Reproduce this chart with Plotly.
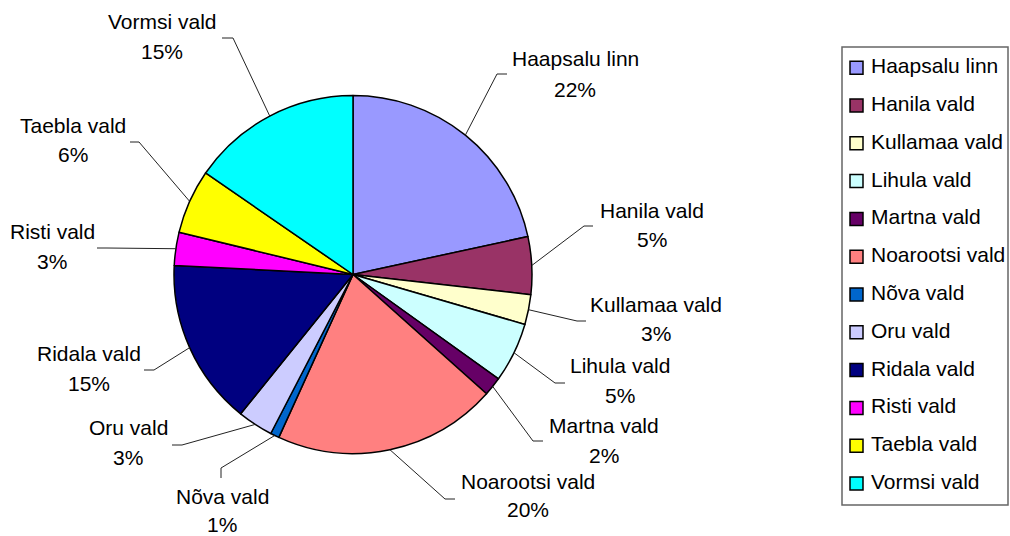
import math
import plotly.graph_objects as go

# Share of the county by municipality
names = ["Haapsalu linn", "Hanila vald", "Kullamaa vald", "Lihula vald", "Martna vald",
         "Noarootsi vald", "Nõva vald", "Oru vald", "Ridala vald", "Risti vald",
         "Taebla vald", "Vormsi vald"]
values = [21.6, 5.2, 2.7, 5.4, 1.7, 20.2, 0.8, 3.2, 15.0, 3.0, 5.8, 15.4]
colors = ["#9999FF", "#993366", "#FFFFCC", "#CCFFFF", "#660066", "#FF8080",
          "#0066CC", "#CCCCFF", "#000080", "#FF00FF", "#FFFF00", "#00FFFF"]

W, H = 1010, 536
FONT = "Liberation Sans, Arial, sans-serif"
FS = 21

# pie geometry in pixels
CX, CY, R = 353, 274.5, 179

# label placement (pixels): label centre x, first line y, second line gap,
# elbow point, line end near text
label_layout = {
    "Haapsalu linn":  (575, 58, 31, (497, 74), (507, 74)),
    "Hanila vald":    (652, 210, 30, (584, 226), (593, 226)),
    "Kullamaa vald":  (656, 304, 29, (577, 321), (586, 321)),
    "Lihula vald":    (620, 365, 30, (555, 383), (565, 383)),
    "Martna vald":    (604, 425, 30, (533, 441), (543, 441)),
    "Noarootsi vald": (528, 481, 28, (445, 499), (455, 499)),
    "Nõva vald":      (222, 496, 28, (221, 468), (221, 478)),
    "Oru vald":       (128, 427, 30, (182, 445), (172, 445)),
    "Ridala vald":    (89, 353, 30, (154, 370), (144, 370)),
    "Risti vald":     (52, 231, 30, (107, 248), (97, 248)),
    "Taebla vald":    (73, 125, 29, (139, 142), (130, 142)),
    "Vormsi vald":    (162, 21, 31, (233, 38), (222, 38)),
}


def px(x):
    return x / W


def py(y):
    return 1 - y / H


fig = go.Figure()
fig.add_trace(go.Pie(
    labels=names, values=values, sort=False, direction="clockwise", rotation=0,
    marker=dict(colors=colors, line=dict(color="black", width=1.5)),
    textinfo="none", showlegend=False,
    domain=dict(x=[px(CX - R), px(CX + R)], y=[py(CY + R), py(CY - R)]),
))

shapes = []
annotations = []
total = sum(values)
cum = 0.0
for name, v in zip(names, values):
    mid = (cum + v / 2) / total * 2 * math.pi
    cum += v
    ex, ey = CX + R * math.sin(mid), CY - R * math.cos(mid)
    lx, ly, gap, (bx, by), (tx, ty) = label_layout[name]
    for (x0, y0), (x1, y1) in (((ex, ey), (bx, by)), ((bx, by), (tx, ty))):
        shapes.append(dict(type="line", xref="paper", yref="paper",
                           x0=px(x0), y0=py(y0), x1=px(x1), y1=py(y1),
                           line=dict(color="#222", width=1)))
    pct = int(v / total * 100 + 0.5)
    annotations.append(dict(text=name, x=px(lx), y=py(ly), xref="paper", yref="paper",
                            showarrow=False, xanchor="center", yanchor="middle",
                            font=dict(family=FONT, size=FS, color="black")))
    annotations.append(dict(text=f"{pct}%", x=px(lx), y=py(ly + gap),
                            xref="paper", yref="paper", showarrow=False,
                            xanchor="center", yanchor="middle", borderpad=0,
                            font=dict(family=FONT, size=FS, color="black")))

# legend box drawn by hand
LEG_X0, LEG_Y0, LEG_X1, LEG_Y1 = 842, 47, 1008, 505
LEG_TOP, LEG_STEP = 67.7, 37.8
shapes.append(dict(type="rect", xref="paper", yref="paper",
                   x0=px(LEG_X0), y0=py(LEG_Y1), x1=px(LEG_X1), y1=py(LEG_Y0),
                   line=dict(color="#666", width=1.5), fillcolor="rgba(0,0,0,0)"))
for i, (name, c) in enumerate(zip(names, colors)):
    yc = LEG_TOP + i * LEG_STEP
    shapes.append(dict(type="rect", xref="paper", yref="paper",
                       x0=px(850), y0=py(yc + 6.5), x1=px(863), y1=py(yc - 6.5),
                       line=dict(color="black", width=1.5), fillcolor=c))
    annotations.append(dict(text=name, x=px(869), y=py(yc - 2), xref="paper", yref="paper",
                            showarrow=False, xanchor="left", yanchor="middle",
                            font=dict(family=FONT, size=FS, color="black")))

fig.update_layout(
    width=W, height=H, margin=dict(l=0, r=0, t=0, b=0),
    paper_bgcolor="white", plot_bgcolor="white",
    shapes=shapes, annotations=annotations,
)
fig.write_html("out.html")
